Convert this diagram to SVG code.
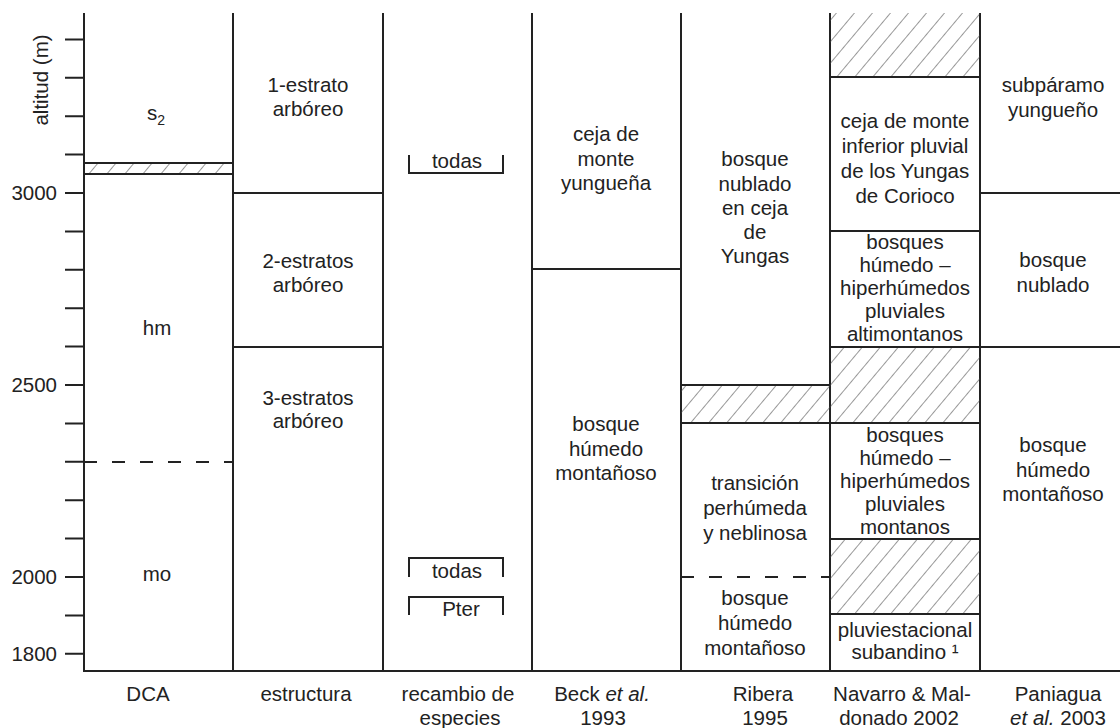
<svg xmlns="http://www.w3.org/2000/svg" width="1120" height="728" viewBox="0 0 1120 728">
<defs>
<pattern id="hatch" patternUnits="userSpaceOnUse" width="13.8" height="13.8" patternTransform="rotate(40)">
<line x1="0" y1="-1" x2="0" y2="15" stroke="#444" stroke-width="1.1"/>
</pattern>
<style>
.ln{stroke:#222;stroke-width:2;fill:none}
.dash{stroke:#222;stroke-width:2;fill:none;stroke-dasharray:13 15}
.hz{fill:url(#hatch);stroke:none}
text{font-family:"Liberation Sans",Arial,sans-serif;font-size:20.5px;fill:#222}
.c{text-anchor:middle}
.e{text-anchor:end}
.it{font-style:italic}
</style>
</defs>
<rect width="1120" height="728" fill="#fff"/>

<g id="axis">
<text transform="translate(48,80) rotate(-90)" class="c" font-size="21.5">altitud (m)</text>
<path class="ln" d="M65,39.4H84M65,77.8H84M65,116.2H84M65,154.6H84M65,193H84M65,231.4H84M65,269.8H84M65,308.2H84M65,346.6H84M65,385H84M65,423.4H84M65,461.8H84M65,500.2H84M65,538.6H84M65,577H84M65,615.4H84M65,653.8H84"/>
<text x="57" y="200" class="e">3000</text>
<text x="57" y="392" class="e">2500</text>
<text x="57" y="584" class="e">2000</text>
<text x="57" y="661" class="e">1800</text>
</g>

<g id="frame">
<path class="ln" d="M84,13V671M233,13V671M383,13V671M532,13V671M681,13V671M830,13V671M980,13V671M83,671H1120"/>
</g>

<g id="col-dca">
<rect class="hz" x="84" y="163" width="149" height="11"/>
<path class="ln" d="M84,163H233M84,174H233"/>
<path class="dash" d="M84,462H233"/>
<text x="147" y="120">s<tspan font-size="14" dy="5">2</tspan></text>
<text x="157" y="335" class="c">hm</text>
<text x="157" y="581" class="c">mo</text>
<text x="148" y="701" class="c">DCA</text>
</g>

<g id="col-estructura">
<path class="ln" d="M233,193H383M233,347H383"/>
<text x="308" y="92" class="c">1-estrato</text>
<text x="308" y="116" class="c">arbóreo</text>
<text x="308" y="268" class="c">2-estratos</text>
<text x="308" y="292" class="c">arbóreo</text>
<text x="308" y="405" class="c">3-estratos</text>
<text x="308" y="428" class="c">arbóreo</text>
<text x="306" y="701" class="c">estructura</text>
</g>

<g id="col-recambio">
<path class="ln" d="M409,155V173H503V155"/>
<text x="457" y="168" class="c">todas</text>
<path class="ln" d="M409,577V558H503V577"/>
<text x="457" y="578" class="c">todas</text>
<path class="ln" d="M409,615V597H503V615"/>
<text x="461" y="616" class="c">Pter</text>
<text x="458" y="701" class="c">recambio de</text>
<text x="460" y="725" class="c">especies</text>
</g>

<g id="col-beck">
<path class="ln" d="M532,269H681"/>
<text x="606" y="141" class="c">ceja de</text>
<text x="606" y="166" class="c">monte</text>
<text x="606" y="190" class="c">yungueña</text>
<text x="606" y="431" class="c">bosque</text>
<text x="606" y="456" class="c">húmedo</text>
<text x="606" y="480" class="c">montañoso</text>
<text x="602" y="701" class="c">Beck <tspan class="it">et al.</tspan></text>
<text x="603" y="725" class="c">1993</text>
</g>

<g id="col-ribera">
<rect class="hz" x="681" y="385" width="149" height="38"/>
<path class="ln" d="M681,385H830M681,423H830"/>
<path class="dash" d="M681,577H830"/>
<text x="755" y="166" class="c">bosque</text>
<text x="755" y="191" class="c">nublado</text>
<text x="755" y="215" class="c">en ceja</text>
<text x="755" y="239" class="c">de</text>
<text x="755" y="263" class="c">Yungas</text>
<text x="755" y="490" class="c">transición</text>
<text x="755" y="515" class="c">perhúmeda</text>
<text x="755" y="540" class="c">y neblinosa</text>
<text x="755" y="605" class="c">bosque</text>
<text x="755" y="630" class="c">húmedo</text>
<text x="755" y="655" class="c">montañoso</text>
<text x="763" y="701" class="c">Ribera</text>
<text x="765" y="725" class="c">1995</text>
</g>

<g id="col-navarro">
<rect class="hz" x="830" y="13" width="150" height="64"/>
<rect class="hz" x="830" y="347" width="150" height="76"/>
<rect class="hz" x="830" y="539" width="150" height="75"/>
<path class="ln" d="M830,77H980M830,231H980M830,347H980M830,423H980M830,539H980M830,614H980"/>
<text x="905" y="128" class="c">ceja de monte</text>
<text x="905" y="153" class="c">inferior pluvial</text>
<text x="905" y="178" class="c">de los Yungas</text>
<text x="905" y="203" class="c">de Corioco</text>
<text x="905" y="249" class="c">bosques</text>
<text x="905" y="272" class="c">húmedo –</text>
<text x="905" y="295" class="c">hiperhúmedos</text>
<text x="905" y="318" class="c">pluviales</text>
<text x="905" y="341" class="c">altimontanos</text>
<text x="905" y="442" class="c">bosques</text>
<text x="905" y="465" class="c">húmedo –</text>
<text x="905" y="488" class="c">hiperhúmedos</text>
<text x="905" y="511" class="c">pluviales</text>
<text x="905" y="534" class="c">montanos</text>
<text x="905" y="637" class="c">pluviestacional</text>
<text x="905" y="659" class="c">subandino ¹</text>
<text x="902" y="701" class="c">Navarro &amp; Mal-</text>
<text x="899" y="725" class="c">donado 2002</text>
</g>

<g id="col-paniagua">
<path class="ln" d="M980,193H1120M980,347H1120"/>
<text x="1053" y="92" class="c">subpáramo</text>
<text x="1053" y="117" class="c">yungueño</text>
<text x="1053" y="267" class="c">bosque</text>
<text x="1053" y="292" class="c">nublado</text>
<text x="1053" y="452" class="c">bosque</text>
<text x="1053" y="477" class="c">húmedo</text>
<text x="1053" y="501" class="c">montañoso</text>
<text x="1058" y="701" class="c">Paniagua</text>
<text x="1058" y="725" class="c"><tspan class="it">et al.</tspan> 2003</text>
</g>
</svg>
